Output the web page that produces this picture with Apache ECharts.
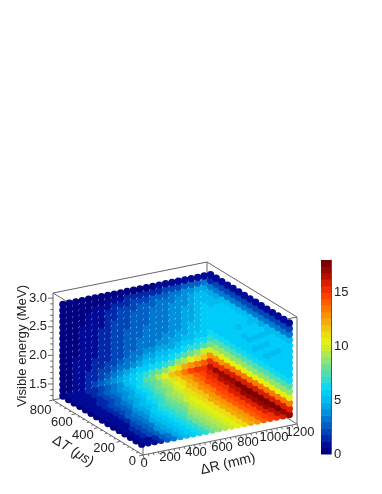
<!DOCTYPE html>
<html><head><meta charset="utf-8">
<style>html,body{margin:0;padding:0;background:#fff}#c{width:382px;height:494px;filter:blur(0.35px)}</style>
<script src="https://cdn.jsdelivr.net/npm/echarts@6/dist/echarts.min.js"></script>
</head><body><div id="c"></div>
<script>
const rCenters=[25,75,125,175,225,275,325,375,425,475,525,575,625,675,725,775,825,875,925,975,1025,1075,1125,1175];
const tCenters=[40,90,140,190,240,290,340,390,440,490,540,590,640,690,740];
const eCenters=[2.95,2.85,2.75,2.65,2.55,2.45,2.35,2.25,2.15,2.05,1.95,1.85,1.75,1.65,1.55,1.45,1.35];
const rTicks=[0,200,400,600,800,1000,1200];
const tTicks=[0,200,400,600,800];
const eTicks=[1.5,2.0,2.5,3.0];
const barTicks=[0,5,10,15];
const palette=['#000080','#000a96','#0028a8','#0046b8','#0060c4','#0078d0','#0090dc','#00a8e6','#00bcf0','#00ccfa','#10d8f0','#30dcd0','#50deb0','#70e090','#90e470','#b0e850','#ccee28','#e4f010','#ecdc10','#f0c410','#f4ac08','#f89400','#fc7800','#ff5c00','#ff4000','#f03000','#d82000','#b81000','#980800','#7c0000'];
const backWall=[
[.2,.2,.3,.3,.3,.3,.3,.3,.4,.4,.4,.4,.5,.5,.5,.6,.6,.6,.7,.7,.7,.8,.8],
[.3,.3,.3,.4,.4,.5,.5,.7,.8,1,1.2,1.3,1.4,1.5,1.6,1.7,1.8,2,2.2,2.4,2.6,2.9,3.1],
[.3,.3,.4,.5,.5,.6,.8,1,1.3,1.5,1.7,1.9,2.1,2.3,2.5,2.7,2.9,3.2,3.5,3.8,4.1,4.4,4.7],
[.3,.4,.4,.5,.6,.7,.9,1.2,1.5,1.8,2,2.3,2.5,2.7,2.9,3,3.2,3.4,3.7,4,4.4,4.8,5.1],
[.3,.4,.5,.5,.6,.8,1,1.4,1.7,1.9,2.2,2.4,2.6,2.8,3,3.2,3.4,3.6,3.8,4.1,4.6,4.9,5.3],
[.3,.4,.5,.6,.7,.8,1.1,1.5,1.8,2,2.3,2.5,2.7,2.9,3.1,3.3,3.4,3.6,3.9,4.2,4.6,5,5.4],
[.3,.4,.5,.6,.7,.9,1.2,1.5,1.8,2.1,2.3,2.5,2.7,2.9,3.1,3.3,3.4,3.6,3.9,4.2,4.7,5.1,5.4],
[.3,.4,.5,.6,.7,.9,1.2,1.6,1.9,2.1,2.4,2.6,2.8,3,3.1,3.3,3.4,3.6,3.9,4.3,4.7,5.1,5.4],
[.3,.4,.5,.6,.8,1,1.3,1.6,1.9,2.2,2.5,2.7,2.9,3.1,3.2,3.3,3.5,3.7,4,4.4,4.8,5.1,5.5],
[.3,.4,.5,.7,.8,1,1.3,1.6,1.9,2.2,2.5,2.8,3,3.2,3.3,3.5,3.7,3.9,4.2,4.5,4.9,5.2,5.5],
[.3,.4,.6,.7,.9,1.1,1.3,1.6,1.9,2.2,2.5,2.8,3,3.3,3.5,3.8,4,4.2,4.5,4.9,5.3,5.6,5.9],
[.3,.5,.6,.8,1,1.2,1.4,1.7,2,2.3,2.7,3.1,3.4,3.7,4,4.2,4.4,4.7,5,5.4,5.8,6.2,6.5],
[.3,.5,.7,.9,1.1,1.4,1.6,1.9,2.3,2.6,3,3.4,3.8,4.2,4.5,4.8,5.1,5.4,5.7,6.1,6.6,7.1,7.7],
[.3,.5,.7,.9,1.2,1.5,1.8,2.2,2.6,3,3.5,4,4.6,5,5.3,5.6,5.9,6.3,6.8,7.5,8.2,8.8,9.6],
[.3,.5,.7,1,1.3,1.7,2.1,2.6,3.1,3.6,4.2,4.8,5.4,5.8,6.1,6.4,6.9,7.5,8.5,9.5,10.5,11,11.6],
[.3,.5,.7,1,1.4,1.9,2.4,3,3.6,4.2,4.9,5.6,6.3,6.8,7.3,8,8.8,9.8,11,12,13,13.5,14],
[.3,.6,.7,.9,1.2,1.7,2.2,2.8,3.4,4,4.8,5.7,6.5,7.3,8.2,9.2,10.5,11.5,12.5,13.5,14.5,15,15.5]];
const sideWall=[
[.6,.6,.7,.7,.7,.8,.8,.8,.8,.8,.8,.8,.7,.7,.6],
[2.1,2.1,2,2,2,2,1.9,1.9,2,2,2,2,1.9,1.8,1.4],
[3.5,3.5,3.4,3.5,3.4,3.5,3.4,3.4,3.5,3.4,3.4,3.4,3.5,3.4,3.3],
[4.9,4.8,4.8,4.9,4.8,4.7,4.8,4.8,4.9,4.8,4.8,4.9,4.8,4.7,4.6],
[5.5,5.5,5.4,5.4,5.3,5.4,5.5,5.3,5.4,5.5,5.5,5.4,5.4,5.3,5.1],
[5.8,5.7,5.7,5.5,5.7,5.3,5.6,5.7,5.5,5.6,5.8,5.7,5.6,5.5,5.3],
[5.7,5.8,5.3,5.6,5.2,5.5,5.2,5.6,5.6,5.3,5.6,5.7,5.7,5.5,5.4],
[5.6,5.7,5.5,5.2,5.5,5.2,5.6,5.3,5.2,5.6,5.5,5.6,5.6,5.6,5.4],
[5.7,5.5,5.6,5.5,5.3,5.6,5.3,5.5,5.6,5.5,5.6,5.5,5.7,5.6,5.5],
[5.9,5.8,5.8,5.7,5.8,5.6,5.8,5.8,5.7,5.8,5.8,5.9,5.8,5.8,5.7],
[6.5,6.4,6.4,6.3,6.4,6.4,6.4,6.3,6.4,6.4,6.4,6.4,6.3,6.3,6.2],
[7.4,7.3,7.3,7.3,7.4,7.3,7.3,7.3,7.3,7.4,7.3,7.3,7.2,7.2,7],
[8.7,8.7,8.6,8.6,8.7,8.6,8.6,8.7,8.6,8.6,8.6,8.5,8.5,8.4,8.2],
[10.6,10.6,10.5,10.5,10.6,10.6,10.5,10.5,10.5,10.4,10.4,10.3,10.3,10.1,9.9],
[13.4,13.4,13.5,13.4,13.5,13.5,13.4,13.4,13.4,13.3,13.3,13.2,13.1,12.9,12.6],
[15.7,15.8,15.9,15.9,16,16,15.9,15.9,15.8,15.8,15.7,15.6,15.5,15.3,15],
[17,17.2,17.4,17.5,17.6,17.7,17.6,17.6,17.5,17.4,17.3,17.2,17,16.8,16.4]];
const floorRows=[
[.3,.3,.3,.3,.3,.3,.3,.3,.3,.3,.3,.3,.3,.3],
[.8,.8,.8,.8,.7,.7,.7,.7,.7,.6,.6,.6,.6,.6],
[1,1.1,1.2,1.2,1.2,1.1,1.1,1,1,.9,.9,.8,.8,.7],
[1.5,1.7,1.8,1.9,1.8,1.8,1.7,1.6,1.5,1.4,1.3,1.2,1.1,1],
[2.5,2.6,2.7,2.7,2.7,2.6,2.5,2.4,2.2,2,1.9,1.7,1.5,1.4],
[3.4,3.5,3.6,3.6,3.5,3.4,3.3,3.1,2.9,2.7,2.5,2.3,2.1,2],
[4.3,4.4,4.5,4.5,4.4,4.3,4.1,3.9,3.7,3.4,3.2,2.9,2.7,2.5],
[5,5.1,5.2,5.2,5.1,5,4.9,4.7,4.4,4.2,3.9,3.6,3.3,3.1],
[5.7,5.8,5.8,5.8,5.7,5.7,5.5,5.4,5.2,4.9,4.6,4.3,4,3.7],
[6.3,6.4,6.4,6.4,6.4,6.3,6.2,6.1,5.9,5.6,5.3,5,4.7,4.4],
[7,7,7.1,7.1,7,7,6.9,6.8,6.6,6.3,6,5.8,5.5,5.2],
[7.8,7.8,7.9,7.8,7.8,7.7,7.6,7.5,7.3,7.1,6.8,6.5,6.3,6],
[8.5,8.5,8.6,8.5,8.5,8.4,8.3,8.2,8,7.8,7.6,7.3,7,6.8],
[9.1,9.2,9.2,9.2,9.2,9.1,9,8.9,8.8,8.6,8.4,8.1,7.8,7.5],
[9.8,9.9,10,10,9.9,9.9,9.8,9.7,9.6,9.4,9.2,8.9,8.6,8.3],
[10.5,10.6,10.7,10.7,10.6,10.6,10.5,10.4,10.3,10.1,9.9,9.7,9.4,9.1],
[11.1,11.2,11.3,11.3,11.3,11.3,11.2,11.1,11,10.9,10.8,10.6,10.3,10],
[12,12,12.1,12.1,12.1,12.1,12,12,11.9,11.8,11.7,11.5,11.3,11],
[13,13,13,13.1,13.1,13.1,13,13,12.9,12.8,12.7,12.5,12.3,12],
[13.8,13.9,14,14,14,14,14,13.9,13.8,13.7,13.6,13.5,13.3,13],
[14.6,14.7,14.8,14.8,14.9,14.9,14.8,14.8,14.7,14.6,14.5,14.4,14.2,13.9],
[15.2,15.4,15.6,15.7,15.8,15.8,15.7,15.7,15.6,15.5,15.4,15.3,15.1,14.9],
[16,16.3,16.6,16.8,16.9,17,16.9,16.8,16.7,16.6,16.5,16.3,16.1,15.9]];

const box={o:[143,455],r:[154,-31],t:[-90,-55],e:[0,-107],R:[0,1200],T:[0,800],E:[1.22,3.09]};
function project(R,T,E){
  const a=(R-box.R[0])/(box.R[1]-box.R[0]),b=(T-box.T[0])/(box.T[1]-box.T[0]),c=(E-box.E[0])/(box.E[1]-box.E[0]);
  return [box.o[0]+a*box.r[0]+b*box.t[0]+c*box.e[0], box.o[1]+a*box.r[1]+b*box.t[1]+c*box.e[1]];
}
const colorOf=v=>palette[Math.min(palette.length-1,Math.max(0,Math.floor(v/0.6)))];

// surface markers; rows run along dT on screen, later rows overlap earlier ones
const points=[];
const nR=rCenters.length,nT=tCenters.length,nE=eCenters.length;
for(let i=0;i<nR;i++)for(let j=0;j<nT;j++)for(let k=nE-1;k>=0;k--){
  let v=null;
  if(i===nR-1)v=sideWall[k][j];
  else if(j===nT-1)v=backWall[k][i];
  else if(k===nE-1)v=floorRows[i][j];
  if(v!==null)points.push({row:i+(nE-1-k),x:project(rCenters[i],tCenters[j],eCenters[k])[0],value:[rCenters[i],tCenters[j],eCenters[k],v]});
}
points.sort((a,b)=>a.row-b.row||b.x-a.x);
const [R0,R1]=box.R,[T0,T1]=box.T,[E0,E1]=box.E;
const edges=[[R0,T1,E1,R1,T1,E1],[R1,T1,E1,R1,T0,E1],[R0,T1,E1,R0,T0,E1],[R0,T0,E1,R1,T0,E1],
 [R0,T1,E0,R0,T1,E1],[R1,T0,E0,R1,T0,E1],[R1,T1,E0,R1,T1,E1],[R0,T0,E0,R0,T0,E1],
 [R0,T1,E0,R1,T1,E0],[R1,T1,E0,R1,T0,E0]];
const axisEdges=[[R0,T0,E0,R1,T0,E0],[R0,T0,E0,R0,T1,E0]];
const tickData=[];
for(let v=0;v<=1200;v+=40)tickData.push(['r',v,v%200===0?1:0]);
for(let v=0;v<=800;v+=40)tickData.push(['t',v,v%200===0?1:0]);
for(let v=13;v<=30;v+=1)tickData.push(['e',v/10,v%5===0?1:0]);
const labelFont='"Liberation Sans",Arial,sans-serif';
const labelData=[];
rTicks.forEach(v=>labelData.push(['r',v]));
tTicks.forEach(v=>labelData.push(['t',v]));
eTicks.forEach(v=>labelData.push(['e',v]));

const base={type:'custom',coordinateSystem:'cartesian2d',xAxisIndex:0,yAxisIndex:0,silent:true,animation:false,clip:false,progressive:0};
const lineStyle={stroke:'#666',lineWidth:1,fill:null};
function edgeRender(p,api){
  const a=api.coord(project(api.value(0),api.value(1),api.value(2))),b=api.coord(project(api.value(3),api.value(4),api.value(5)));
  return {type:'line',shape:{x1:a[0],y1:a[1],x2:b[0],y2:b[1]},style:lineStyle};
}
const option={
  animation:false,
  grid:[{left:0,top:0,width:382,height:494,show:false},{left:321,top:260,width:10,height:194,show:false}],
  xAxis:[{type:'value',gridIndex:0,min:0,max:382,show:false},{type:'category',gridIndex:1,data:['z'],show:false}],
  yAxis:[{type:'value',gridIndex:0,min:0,max:494,inverse:true,show:false},
   {type:'value',gridIndex:1,min:0,max:18,position:'right',splitLine:{show:false},
    axisLine:{show:true,lineStyle:{color:'#555',width:1}},
    axisTick:{show:true,inside:true,length:9,customValues:[5,10,15],lineStyle:{color:'#111',width:1.4}},
    axisLabel:{show:true,customValues:barTicks,margin:3,fontFamily:labelFont,fontSize:13,color:'#222'}}],
  series:[
   Object.assign({},base,{data:edges,renderItem:edgeRender}),
   Object.assign({},base,{data:points.map(p=>p.value),renderItem(p,api){
     const c=api.coord(project(api.value(0),api.value(1),api.value(2)));
     return {type:'circle',shape:{cx:c[0],cy:c[1],r:3.7},style:{fill:colorOf(api.value(3))}};
   }}),
   Object.assign({},base,{data:axisEdges,renderItem:edgeRender}),
   Object.assign({},base,{data:tickData.map((t,i)=>[i]),renderItem(p,api){
     const kind=tickData[p.dataIndex][0],v=tickData[p.dataIndex][1],major=tickData[p.dataIndex][2];
     const q=kind==='r'?project(v,T0,E0):kind==='t'?project(R0,v,E0):project(R0,T1,v);
     const n=major?1:0.55,d=kind==='r'?[1.5*n,4*n]:kind==='t'?[-4*n,1*n]:[-5*n,0];
     const a=api.coord(q),b=api.coord([q[0]+d[0],q[1]+d[1]]);
     return {type:'line',shape:{x1:a[0],y1:a[1],x2:b[0],y2:b[1]},style:lineStyle};
   }}),
   Object.assign({},base,{data:labelData.map((t,i)=>[i]),renderItem(p,api){
     const kind=labelData[p.dataIndex][0],v=labelData[p.dataIndex][1];
     let q,align='center',txt=String(v),dx=0,dy=0;
     if(kind==='r'){q=project(v,T0,E0);dx=1+2*v/1200;dy=8;}
     else if(kind==='t'){q=project(R0,v,E0);align='right';dx=-7+5.5*v/800;dy=6+4*v/800;}
     else{q=project(R0,T1,v);align='right';dx=-6;dy=0;txt=v.toFixed(1);}
     const c=api.coord([q[0]+dx,q[1]+dy]);
     return {type:'text',x:c[0],y:c[1],style:{text:txt,align,verticalAlign:'middle',fontFamily:labelFont,fontSize:13,fill:'#222'}};
   }}),
   {type:'custom',coordinateSystem:'cartesian2d',xAxisIndex:1,yAxisIndex:1,silent:true,animation:false,progressive:0,
    data:palette.map((c,i)=>[0,i*0.6,(i+1)*0.6]),renderItem(p,api){
      const a=api.coord([0,api.value(1)]),b=api.coord([0,api.value(2)]),w=api.size([1,0])[0];
      return {type:'rect',shape:{x:a[0]-w/2,y:b[1],width:w,height:a[1]-b[1]+0.5},style:{fill:palette[p.dataIndex]}};
    }}
  ],
  graphic:[
   {type:'text',x:22,y:346,rotation:Math.PI/2,style:{text:'Visible energy (MeV)',align:'center',verticalAlign:'middle',fontFamily:labelFont,fontSize:13.2,fill:'#222'}},
   {type:'text',x:228,y:464,rotation:0.23,style:{text:'ΔR (mm)',align:'center',verticalAlign:'middle',fontFamily:labelFont,fontSize:14,fill:'#222'}},
   {type:'text',x:73,y:451,rotation:-0.56,style:{text:'Δ{i|T} ({i|μs})',align:'center',verticalAlign:'middle',fontFamily:labelFont,fontSize:14,fill:'#222',rich:{i:{fontStyle:'italic',fontFamily:labelFont,fontSize:14,fill:'#222'}}}}
  ]
};
echarts.init(document.getElementById('c'),null,{renderer:'canvas'}).setOption(option);
</script></body></html>
